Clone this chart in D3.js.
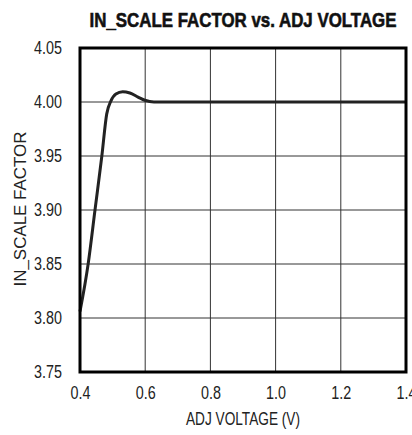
<!DOCTYPE html>
<html>
<head>
<meta charset="utf-8">
<script src="https://cdn.jsdelivr.net/npm/d3@7"></script>
<style>
  body { margin: 0; background: #fff; }
  svg { display: block; }
  text { font-family: "Liberation Sans", Arial, sans-serif; fill: #222; }
</style>
</head>
<body>
<div id="chart"></div>
<script>
// data
var adjVoltage = [0.400, 0.425, 0.446, 0.467, 0.482, 0.495, 0.510, 0.531, 0.553, 0.578, 0.599, 0.627, 0.800, 1.000, 1.200, 1.400];
var scaleFactor = [3.806, 3.850, 3.900, 3.950, 3.989, 4.001, 4.0074, 4.0095, 4.0083, 4.0046, 4.0016, 4.000, 4.000, 4.000, 4.000, 4.000];
var xTicks = [0.4, 0.6, 0.8, 1.0, 1.2, 1.4];
var yTicks = [3.75, 3.80, 3.85, 3.90, 3.95, 4.00, 4.05];

var W = 412, H = 435;
var margin = {top: 48, right: 6, bottom: 63, left: 80};
var w = W - margin.left - margin.right, h = H - margin.top - margin.bottom;
var narrow = 0.82;

var svg = d3.select("#chart").append("svg").attr("width", W).attr("height", H);

var x = d3.scaleLinear().domain([0.4, 1.4]).range([0, w]);
var y = d3.scaleLinear().domain([3.75, 4.05]).range([h, 0]);

var g = svg.append("g").attr("transform", "translate(" + margin.left + "," + margin.top + ")");

// grid
g.selectAll("line.vgrid").data(xTicks).enter().append("line")
	.attr("class", "vgrid")
	.attr("x1", function(d) { return x(d); }).attr("x2", function(d) { return x(d); })
	.attr("y1", 0).attr("y2", h)
	.style("stroke", "#333").style("stroke-width", 1);
g.selectAll("line.hgrid").data(yTicks).enter().append("line")
	.attr("class", "hgrid")
	.attr("x1", 0).attr("x2", w)
	.attr("y1", function(d) { return y(d); }).attr("y2", function(d) { return y(d); })
	.style("stroke", "#333").style("stroke-width", 1);

// curve
var line = d3.line()
	.x(function(d, i) { return x(adjVoltage[i]); })
	.y(function(d) { return y(d); })
	.curve(d3.curveMonotoneX);
g.append("path").datum(scaleFactor)
	.attr("d", line)
	.style("fill", "none").style("stroke", "#222").style("stroke-width", 3);

// frame
g.append("rect").attr("x", 0).attr("y", 0).attr("width", w).attr("height", h)
	.style("fill", "none").style("stroke", "#000").style("stroke-width", 3);

// tick values, squeezed to look like a narrow face
var xAxis = d3.axisBottom(x).tickValues(xTicks).tickFormat(d3.format(".1f")).tickSize(0).tickPadding(15);
var yAxis = d3.axisLeft(y).tickValues(yTicks).tickFormat(d3.format(".2f")).tickSize(0).tickPadding(18 / narrow);

g.append("g").attr("transform", "translate(0," + h + ")").call(xAxis)
	.call(function(s) { s.select(".domain").remove(); })
	.selectAll("text").style("font-size", "17.5px").style("fill", "#222")
	.style("font-family", "'Liberation Sans', sans-serif")
	.attr("transform", "scale(" + narrow + ",1)");
g.append("g").call(yAxis)
	.call(function(s) { s.select(".domain").remove(); })
	.selectAll("text").style("font-size", "17.5px").style("fill", "#222")
	.style("font-family", "'Liberation Sans', sans-serif")
	.attr("transform", "scale(" + narrow + ",1)");

// titles
svg.append("text").attr("x", 243).attr("y", 27)
	.attr("text-anchor", "middle").style("font-size", "20px").style("font-weight", "bold")
	.style("fill", "#111").style("stroke", "#111").style("stroke-width", 0.6)
	.attr("textLength", 307).attr("lengthAdjust", "spacingAndGlyphs")
	.text("IN_SCALE FACTOR vs. ADJ VOLTAGE");
svg.append("text").attr("x", 243).attr("y", 425)
	.attr("text-anchor", "middle").style("font-size", "17.5px")
	.attr("textLength", 114).attr("lengthAdjust", "spacingAndGlyphs")
	.text("ADJ VOLTAGE (V)");
svg.append("text").attr("transform", "translate(26,209) rotate(-90)")
	.attr("text-anchor", "middle").style("font-size", "17px")
	.attr("textLength", 155).attr("lengthAdjust", "spacingAndGlyphs")
	.text("IN_SCALE FACTOR");
</script>
</body>
</html>
